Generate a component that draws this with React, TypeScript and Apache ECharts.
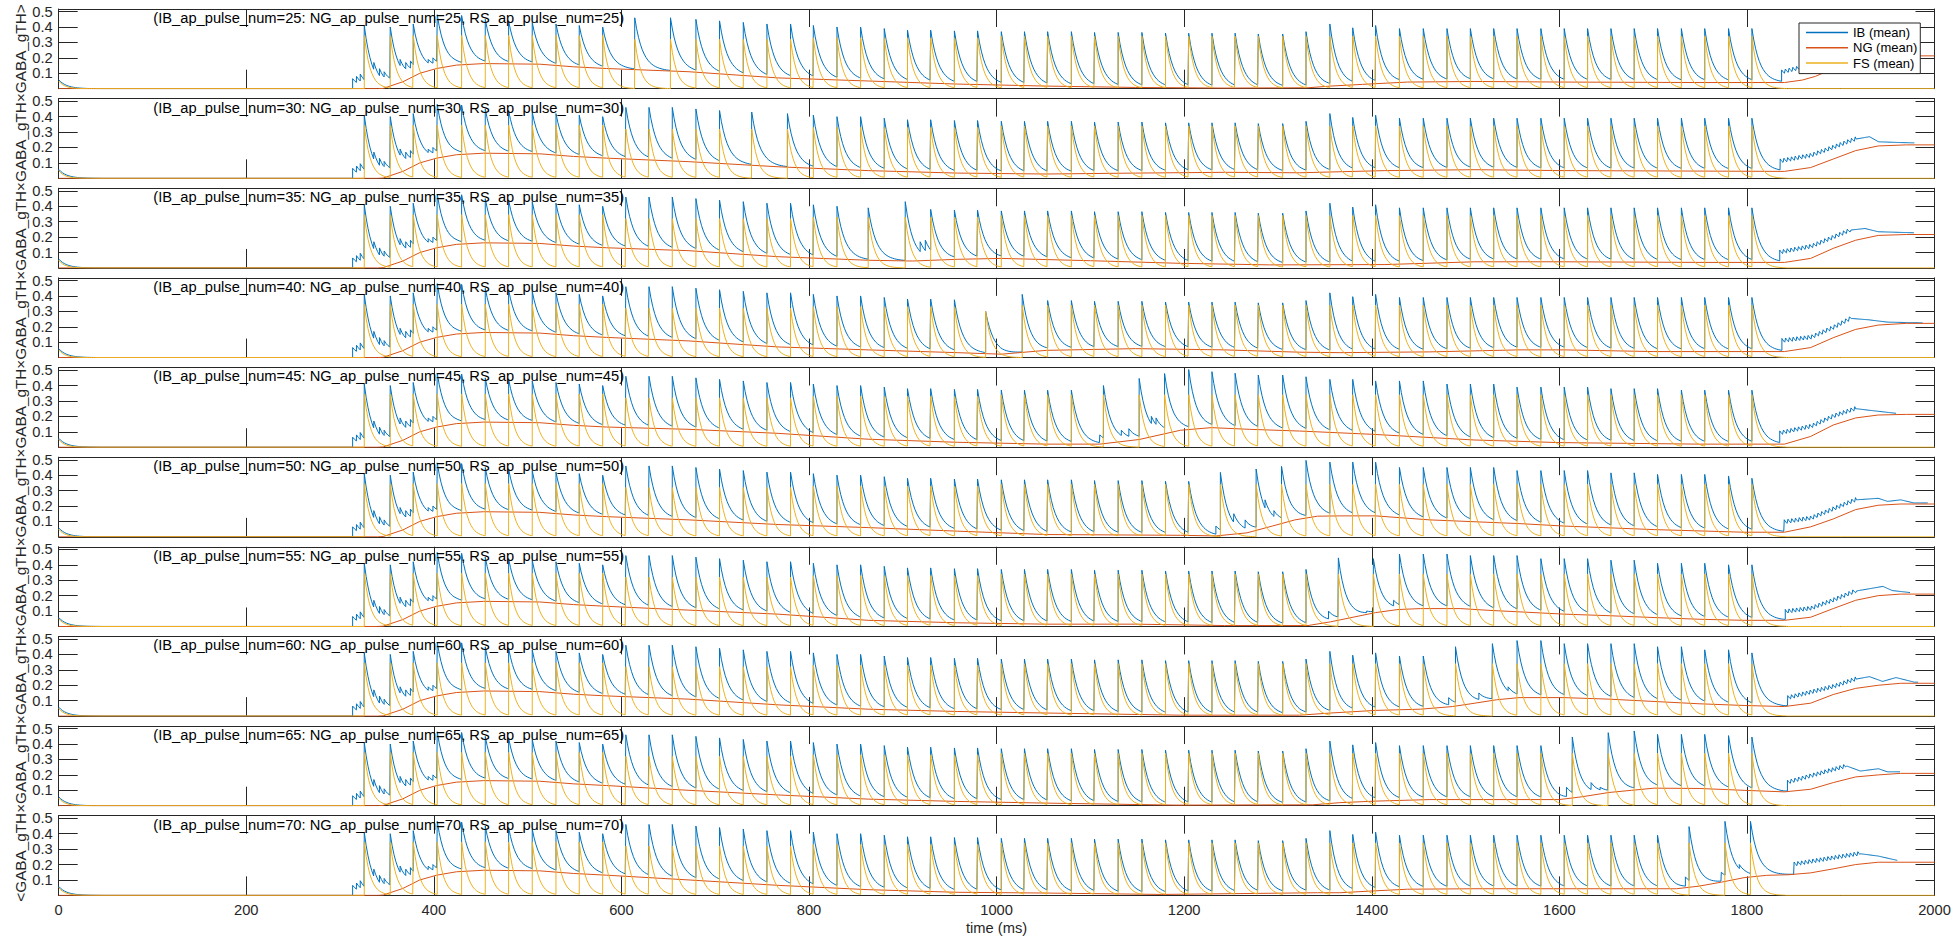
import React, { useEffect, useRef } from "react";
import * as echarts from "echarts";

const FONT = '"Liberation Sans", Arial, Helvetica, sans-serif';

// ---------- axes / labels ----------
const TIME_TICKS = [0, 200, 400, 600, 800, 1000, 1200, 1400, 1600, 1800, 2000];
const Y_TICKS = [0.1, 0.2, 0.3, 0.4, 0.5];
const Y_MAX = 0.517;
const PULSE_NUMS = [25, 30, 35, 40, 45, 50, 55, 60, 65, 70];
const SERIES_NAMES = ["IB (mean)", "NG (mean)", "FS (mean)"];
const SERIES_COLORS = ["#0072BD", "#D95319", "#EDB120"];
const Y_LABEL =
  "<GABA_gTH×GABA_gTH×GABA_gTH×GABA_gTH×GABA_gTH×GABA_gTH×GABA_gTH×GABA_gTH×GABA_gTH×GABA_gTH>";
const X_LABEL = "time (ms)";

// ---------- spike onsets shared by every panel (ms) ----------
const BASE_SPIKES = [
  325.8, 353.5, 378.0, 403.6, 429.6, 454.8, 479.7, 504.9, 530.2, 555.0, 580.0, 604.7, 629.4, 654.2,
  679.4, 704.6, 729.9, 755.1, 780.3, 804.6, 829.8, 855.0, 880.2, 905.0, 929.7, 955.0, 979.7, 1005.0,
  1029.7, 1054.4, 1079.7, 1104.4, 1129.6, 1154.9, 1180.1, 1204.8, 1229.6, 1254.3, 1279.0, 1305.0,
  1329.9, 1355.3, 1379.7, 1404.1, 1429.5, 1454.9, 1480.2, 1505.1, 1530.0, 1554.9, 1580.3, 1605.2,
  1630.1, 1655.0, 1679.8, 1704.7, 1730.1, 1755.0, 1780.4, 1805.3,
];
// small IB-only bumps around the first spikes: [t, value]
const EARLY_BUMPS = [
  [313.4, 0.065], [317.5, 0.08], [321.5, 0.095], [336, 0.17], [342, 0.13], [347, 0.11],
  [364, 0.19], [370, 0.17], [375, 0.18], [388, 0.21], [394, 0.19], [399, 0.2],
];
// start transient at t = 0
const START_IB = 0.058;
const START_FS = 0.05;

// IB peak level (step knots [from t, peak])
const BASE_IB_PEAKS = [
  [0, 0.41], [350, 0.40], [375, 0.42], [400, 0.48], [425, 0.475], [450, 0.45], [475, 0.44],
  [500, 0.43], [525, 0.42], [550, 0.41], [575, 0.40], [600, 0.46], [660, 0.45], [700, 0.44],
  [725, 0.43], [750, 0.42], [790, 0.41], [825, 0.40], [860, 0.39], [900, 0.38], [950, 0.375],
  [1000, 0.37], [1100, 0.365], [1175, 0.36], [1270, 0.355], [1320, 0.37], [1350, 0.42],
  [1375, 0.395], [1400, 0.41], [1425, 0.39],
];
const IB_PEAKS_P25: number[][] = [];
const IB_PEAKS_P30: number[][] = [];
const IB_PEAKS_P35: number[][] = [];
const IB_PEAKS_P40: number[][] = [];
const IB_PEAKS_P45 = [
  [1200, 0.504], [1220, 0.49], [1250, 0.48], [1270, 0.468], [1320, 0.457], [1350, 0.44],
  [1400, 0.43], [1470, 0.41], [1540, 0.39], [1640, 0.38], [1720, 0.37],
];
const IB_PEAKS_P50 = [
  [1320, 0.496], [1340, 0.485], [1420, 0.45], [1550, 0.43], [1650, 0.415], [1700, 0.405],
  [1760, 0.395], [1800, 0.38],
];
const IB_PEAKS_P55 = [[1425, 0.47], [1500, 0.46], [1580, 0.44], [1650, 0.43], [1700, 0.41], [1780, 0.40]];
const IB_PEAKS_P60 = [[1550, 0.49], [1600, 0.47], [1700, 0.45], [1750, 0.43], [1800, 0.41]];
const IB_PEAKS_P65 = [[1670, 0.485], [1700, 0.463], [1760, 0.455], [1800, 0.446]];
const IB_PEAKS_P70: number[][] = [];
const IB_PEAKS = [
  IB_PEAKS_P25, IB_PEAKS_P30, IB_PEAKS_P35, IB_PEAKS_P40, IB_PEAKS_P45,
  IB_PEAKS_P50, IB_PEAKS_P55, IB_PEAKS_P60, IB_PEAKS_P65, IB_PEAKS_P70,
];
// FS peak level (step knots)
const FS_PEAKS = [[0, 0.345], [590, 0.32], [800, 0.33], [1000, 0.34]];

// per-panel irregular windows: base spikes inside [from, to] are replaced
const EDIT_WINDOWS = [
  [595, 660], [720, 790], [845, 925], [970, 1040], [1100, 1185],
  [1225, 1310], [1345, 1425], [1475, 1550], [1600, 1660], [1725, 1810],
];
// [t, IB peak (null = level), FS peak (null = level, 0 = none)]
const EDIT_P25 = [[614.2, null, null], [652.3, null, null]];
const EDIT_P30 = [[738.9, null, null], [777.0, null, null]];
const EDIT_P35 = [[863.1, null, null], [902.6, 0.43, null], [918.5, 0.17, 0], [924.0, 0.18, 0]];
const EDIT_P40 = [[988.3, 0.3, 0.3], [1027.3, 0.41, null]];
const EDIT_P45 = [
  [1110, 0.08, 0], [1113.9, 0.40, null], [1133, 0.11, 0], [1141, 0.12, 0], [1152, 0.446, null],
  [1165, 0.2, 0], [1170, 0.19, 0], [1179.1, 0.478, null],
];
const EDIT_P50 = [
  [1233.8, 0.07, 0], [1238.6, 0.418, null], [1252.9, 0.15, 0], [1265, 0.11, 0], [1276.7, 0.44, null],
  [1286.2, 0.24, 0], [1295.7, 0.17, 0], [1303.8, 0.457, null],
];
const EDIT_P55 = [
  [1353.9, 0.1, 0], [1364.4, 0.445, null], [1380.2, 0.127, 0], [1394.6, 0.1, 0],
  [1401.7, 0.44, null], [1423.3, 0.17, 0],
];
const EDIT_P60 = [
  [1482, 0.12, 0], [1489.3, 0.45, null], [1514.2, 0.15, 0], [1523.8, 0.12, 0],
  [1528.6, 0.47, null], [1545.4, 0.19, 0],
];
const EDIT_P65 = [
  [1607.6, 0.12, 0], [1613.8, 0.446, null], [1633.9, 0.15, 0], [1643.5, 0.12, 0], [1652.1, 0.474, null],
];
const EDIT_P70 = [
  [1734.4, 0.12, 0], [1738.3, 0.446, null], [1748.8, 0.16, 0], [1762, 0.1, 0], [1772.7, 0.15, 0],
  [1776.6, 0.48, null], [1791.9, 0.2, 0], [1803.8, 0.48, null],
];
const EDITS = [EDIT_P25, EDIT_P30, EDIT_P35, EDIT_P40, EDIT_P45, EDIT_P50, EDIT_P55, EDIT_P60, EDIT_P65, EDIT_P70];

const IB_DECAY = [1, 0.79, 0.625, 0.494, 0.39, 0.308, 0.244, 0.193, 0.152, 0.12, 0.095, 0.075, 0.059, 0.047, 0.037, 0.029, 0.023, 0.018, 0.014, 0.011, 0.009, 0.007, 0.005, 0];
const FS_DECAY = [1, 0.735, 0.54, 0.397, 0.292, 0.215, 0.158, 0.116, 0.085, 0.063, 0.046, 0.034, 0.025, 0.018, 0.013, 0.01, 0.007, 0.005, 0.003, 0];

// ---------- NG (mean) ----------
const NG_EARLY = [
  [0, 0], [340, 0], [346, 0.002], [367, 0.045], [385, 0.1], [403, 0.131], [424, 0.153],
  [453, 0.163], [513, 0.159], [549, 0.142], [584, 0.131],
];
const NG_P25 = [[672, 0.11], [767, 0.07], [863, 0.05], [958, 0.03], [1053, 0.017], [1148, 0.008], [1243, 0.004], [1332, 0.006], [1356, 0.017], [1390, 0.028], [1438, 0.043], [1510, 0.047], [1605, 0.043], [1750, 0.04], [1840, 0.04], [1859, 0.056], [1873, 0.08], [1892, 0.13], [1916, 0.18], [1940, 0.205], [1964, 0.213], [2000, 0.213]];
const NG_P30 = [[672, 0.108], [767, 0.075], [863, 0.05], [958, 0.034], [1053, 0.028], [1148, 0.034], [1243, 0.039], [1323, 0.036], [1414, 0.05], [1510, 0.056], [1605, 0.05], [1750, 0.047], [1840, 0.045], [1868, 0.07], [1892, 0.125], [1916, 0.18], [1940, 0.21], [1970, 0.217], [2000, 0.217]];
const NG_P35 = [[672, 0.112], [767, 0.073], [863, 0.05], [910, 0.045], [958, 0.056], [1005, 0.062], [1100, 0.047], [1196, 0.03], [1291, 0.02], [1414, 0.022], [1510, 0.04], [1605, 0.04], [1750, 0.036], [1840, 0.036], [1868, 0.062], [1892, 0.127], [1916, 0.18], [1940, 0.211], [1970, 0.217], [2000, 0.217]];
const NG_P40 = [[672, 0.108], [767, 0.069], [863, 0.05], [958, 0.032], [1005, 0.022], [1053, 0.047], [1148, 0.058], [1243, 0.05], [1323, 0.035], [1366, 0.032], [1462, 0.037], [1557, 0.05], [1605, 0.05], [1700, 0.039], [1840, 0.039], [1868, 0.065], [1892, 0.129], [1916, 0.183], [1940, 0.211], [1970, 0.222], [2000, 0.222]];
const NG_P45 = [[672, 0.116], [767, 0.09], [863, 0.052], [958, 0.032], [1053, 0.02], [1110, 0.02], [1152, 0.05], [1196, 0.11], [1229, 0.127], [1270, 0.116], [1323, 0.105], [1400, 0.084], [1509, 0.047], [1600, 0.03], [1749, 0.02], [1840, 0.02], [1868, 0.07], [1892, 0.144], [1916, 0.19], [1940, 0.209], [1970, 0.213], [2000, 0.213]];
const NG_P50 = [[672, 0.11], [767, 0.08], [863, 0.06], [958, 0.037], [1053, 0.015], [1196, 0.01], [1234, 0.006], [1267, 0.026], [1294, 0.07], [1318, 0.11], [1342, 0.134], [1366, 0.136], [1404, 0.136], [1462, 0.11], [1557, 0.086], [1605, 0.07], [1701, 0.047], [1797, 0.03], [1840, 0.03], [1868, 0.065], [1892, 0.116], [1916, 0.177], [1940, 0.205], [1964, 0.213], [2000, 0.213]];
const NG_P55 = [[672, 0.106], [767, 0.08], [863, 0.04], [958, 0.024], [1053, 0.015], [1148, 0.015], [1243, 0.006], [1332, 0.006], [1356, 0.03], [1380, 0.06], [1404, 0.09], [1428, 0.11], [1452, 0.116], [1495, 0.116], [1524, 0.105], [1557, 0.095], [1605, 0.08], [1653, 0.07], [1701, 0.058], [1749, 0.047], [1797, 0.04], [1840, 0.04], [1868, 0.06], [1892, 0.116], [1916, 0.17], [1940, 0.2], [1964, 0.21], [2000, 0.21]];
const NG_P60 = [[672, 0.11], [767, 0.073], [863, 0.045], [958, 0.03], [1053, 0.02], [1196, 0.006], [1323, 0.006], [1356, 0.02], [1404, 0.037], [1452, 0.045], [1486, 0.062], [1510, 0.084], [1533, 0.106], [1557, 0.12], [1605, 0.12], [1653, 0.11], [1701, 0.095], [1749, 0.08], [1797, 0.069], [1840, 0.062], [1868, 0.084], [1892, 0.14], [1916, 0.18], [1940, 0.2], [1964, 0.213], [2000, 0.213]];
const NG_P65 = [[672, 0.1], [767, 0.07], [863, 0.043], [958, 0.028], [1053, 0.017], [1191, 0.004], [1337, 0.006], [1366, 0.02], [1404, 0.03], [1462, 0.04], [1600, 0.04], [1624, 0.058], [1653, 0.086], [1677, 0.1], [1701, 0.114], [1749, 0.112], [1797, 0.1], [1840, 0.09], [1868, 0.107], [1892, 0.15], [1916, 0.187], [1940, 0.2], [1964, 0.21], [2000, 0.21]];
const NG_P70 = [[672, 0.1], [767, 0.065], [863, 0.037], [958, 0.02], [1053, 0.015], [1176, 0.006], [1342, 0.017], [1366, 0.017], [1399, 0.028], [1438, 0.04], [1510, 0.043], [1653, 0.043], [1725, 0.043], [1749, 0.06], [1773, 0.086], [1797, 0.115], [1821, 0.13], [1845, 0.134], [1868, 0.146], [1892, 0.172], [1916, 0.2], [1940, 0.215], [2000, 0.215]];
const NG_LATE = [NG_P25, NG_P30, NG_P35, NG_P40, NG_P45, NG_P50, NG_P55, NG_P60, NG_P65, NG_P70];

// ---------- IB tail after the pulse train: envelope knots [t, value] ----------
const TAIL_P25 = [[1837, 0.106], [1868, 0.15], [1892, 0.2], [1916, 0.25], [1931, 0.265], [1940, 0.235], [1964, 0.23], [1980, 0.228]];
const TAIL_P30 = [[1835.5, 0.11], [1868.5, 0.147], [1892.4, 0.2], [1916.4, 0.255], [1930.7, 0.27], [1940.3, 0.237], [1964, 0.232], [1978.6, 0.23]];
const TAIL_P35 = [[1835, 0.1], [1868.5, 0.138], [1892.4, 0.198], [1911, 0.246], [1925.8, 0.256], [1940, 0.235], [1978.6, 0.228]];
const TAIL_P40 = [[1837.3, 0.108], [1868.5, 0.13], [1892.4, 0.194], [1911, 0.254], [1930, 0.245], [1949.8, 0.23], [1988, 0.225]];
const TAIL_P45 = [[1835, 0.09], [1868.5, 0.134], [1892.4, 0.2], [1916.4, 0.25], [1930, 0.24], [1959, 0.22]];
const TAIL_P50 = [[1839.8, 0.095], [1868.5, 0.12], [1892.4, 0.18], [1916.4, 0.24], [1940, 0.25], [1950, 0.23], [1964, 0.24], [1978, 0.22], [1993, 0.22]];
const TAIL_P55 = [[1840.9, 0.095], [1868.5, 0.116], [1892.4, 0.17], [1916.4, 0.23], [1945, 0.26], [1955, 0.233], [1974, 0.22]];
const TAIL_P60 = [[1843.5, 0.117], [1892.4, 0.19], [1916.4, 0.24], [1930.7, 0.256], [1944.6, 0.225], [1959, 0.25], [1978.6, 0.22], [1983, 0.22]];
const TAIL_P65 = [[1843.2, 0.15], [1906.7, 0.257], [1921, 0.225], [1940.3, 0.24], [1949.8, 0.22], [1964, 0.22]];
const TAIL_P70 = [[1850.3, 0.2], [1921, 0.27], [1940, 0.255], [1961, 0.226]];
const TAILS = [TAIL_P25, TAIL_P30, TAIL_P35, TAIL_P40, TAIL_P45, TAIL_P50, TAIL_P55, TAIL_P60, TAIL_P65, TAIL_P70];
const TEETH_END = [1916, 1916, 1911, 1911, 1916, 1916, 1916, 1916, 1906, 1921];
// sawtooth texture of the tail, 1 ms steps
const TAIL_TOOTH = [0.016, 0.006, -0.003, -0.01];

// ---------- helpers ----------
function lin(knots: number[][], t: number): number {
  if (t <= knots[0][0]) return knots[0][1];
  for (let i = 1; i < knots.length; i++) {
    if (t <= knots[i][0]) {
      const [t0, v0] = knots[i - 1];
      const [t1, v1] = knots[i];
      return t1 === t0 ? v1 : v0 + ((v1 - v0) * (t - t0)) / (t1 - t0);
    }
  }
  return knots[knots.length - 1][1];
}
function stepAt(knots: number[][], t: number): number {
  let v = knots[0][1];
  for (const k of knots) {
    if (k[0] <= t) v = k[1];
    else break;
  }
  return v;
}
function kern(K: number[], dt: number): number {
  const x = dt / 2;
  const i = Math.floor(x);
  if (i >= K.length - 1) return 0;
  return K[i] + (K[i + 1] - K[i]) * (x - i);
}

type Ev = { t: number; peak: number };

function buildTrace(events: Ev[], K: number[], base: (t: number) => number, endT: number) {
  const pts: number[][] = [];
  let cur = events[0];
  let amp = cur.peak - base(cur.t);
  let k = 1;
  pts.push([cur.t, cur.peak]);
  const valAt = (t: number) => base(t) + amp * kern(K, t - cur.t);
  const decayTo = (tEnd: number) => {
    while (k < K.length) {
      const t = cur.t + 2 * k;
      if (t >= tEnd) break;
      pts.push([t, valAt(t)]);
      k++;
    }
  };
  for (let i = 1; i < events.length; i++) {
    const e = events[i];
    decayTo(e.t);
    const v = valAt(e.t);
    if (e.peak <= v + 0.004) continue;
    pts.push([e.t, v], [e.t, e.peak]);
    cur = e;
    amp = e.peak - base(e.t);
    k = 1;
  }
  decayTo(endT);
  pts.push([endT, valAt(endT)]);
  return pts;
}

function panelData(p: number) {
  const ngKnots = NG_EARLY.concat(NG_LATE[p]);
  const ngAt = (t: number) => lin(ngKnots, t);
  const ov = IB_PEAKS[p];
  const peakKnots = ov.length ? BASE_IB_PEAKS.filter((k) => k[0] < ov[0][0]).concat(ov) : BASE_IB_PEAKS;
  const [w0, w1] = EDIT_WINDOWS[p];

  type Sp = { t: number; ib: number; fs: number };
  const spikes: Sp[] = [];
  for (const t of BASE_SPIKES) {
    if (t >= w0 && t <= w1) continue;
    spikes.push({ t, ib: stepAt(peakKnots, t), fs: stepAt(FS_PEAKS, t) });
  }
  for (const [t, v] of EARLY_BUMPS) spikes.push({ t, ib: v, fs: 0 });
  for (const e of EDITS[p] as (number | null)[][]) {
    const t = e[0] as number;
    spikes.push({
      t,
      ib: e[1] === null ? stepAt(peakKnots, t) : (e[1] as number),
      fs: e[2] === null ? stepAt(FS_PEAKS, t) : (e[2] as number),
    });
  }
  spikes.sort((a, b) => a.t - b.t);

  // IB
  const tail = TAILS[p];
  const ibEvents: Ev[] = [{ t: 0, peak: START_IB }].concat(spikes.map((s) => ({ t: s.t, peak: s.ib })));
  const ib = buildTrace(ibEvents, IB_DECAY, ngAt, tail[0][0]);
  const tEnd = tail[tail.length - 1][0];
  let j = 0;
  for (let t = tail[0][0]; t <= tEnd + 1e-6; t += 1, j++) {
    const env = lin(tail, t);
    const off = t < TEETH_END[p] ? TAIL_TOOTH[j % TAIL_TOOTH.length] : 0;
    ib.push([t, env + off]);
  }

  // FS
  const fsEvents: Ev[] = [{ t: 0, peak: START_FS }].concat(
    spikes.filter((s) => s.fs > 0).map((s) => ({ t: s.t, peak: s.fs }))
  );
  const fs = buildTrace(fsEvents, FS_DECAY, () => 0, 1900);
  fs.push([2000, 0]);

  return { ib, ng: ngKnots, fs };
}

function buildOption() {
  const PANEL_TOP = 9;
  const PANEL_PITCH = 89.63;
  const PANEL_H = 79.7;
  const LEFT = 58.7;
  const WIDTH = 1875.8;
  const axisCol = "#262626";

  const grid: any[] = [];
  const xAxis: any[] = [];
  const yAxis: any[] = [];
  const series: any[] = [];
  const graphic: any[] = [];

  PULSE_NUMS.forEach((n, i) => {
    const top = PANEL_TOP + i * PANEL_PITCH;
    grid.push({ left: LEFT, top, width: WIDTH, height: PANEL_H, containLabel: false, outerBoundsMode: "none" });
    const xBase = {
      type: "value",
      gridIndex: i,
      min: TIME_TICKS[0],
      max: TIME_TICKS[TIME_TICKS.length - 1],
      interval: TIME_TICKS[1] - TIME_TICKS[0],
      splitLine: { show: false },
      axisLine: { show: true, onZero: false, lineStyle: { color: axisCol, width: 1 } },
    };
    xAxis.push({
      ...xBase,
      position: "bottom",
      axisTick: { show: true, inside: true, length: 19, lineStyle: { color: axisCol } },
      axisLabel: {
        show: i === PULSE_NUMS.length - 1,
        formatter: (v: number) => String(v),
        fontSize: 14.7,
        fontFamily: FONT,
        color: axisCol,
        margin: 7,
      },
    });
    xAxis.push({
      ...xBase,
      position: "top",
      axisTick: { show: true, inside: true, length: 18, lineStyle: { color: axisCol } },
      axisLabel: { show: false },
    });
    const yBase = {
      type: "value",
      gridIndex: i,
      min: 0,
      max: Y_MAX,
      splitLine: { show: false },
      axisLine: { show: true, onZero: false, lineStyle: { color: axisCol, width: 1 } },
    };
    yAxis.push({
      ...yBase,
      position: "left",
      axisTick: { show: true, inside: true, length: 19, customValues: Y_TICKS, lineStyle: { color: axisCol } },
      axisLabel: {
        show: true,
        customValues: Y_TICKS,
        formatter: (v: number) => v.toFixed(1),
        fontSize: 14.7,
        fontFamily: FONT,
        color: axisCol,
        margin: 6,
      },
    });
    yAxis.push({
      ...yBase,
      position: "right",
      axisTick: { show: true, inside: true, length: 19, customValues: Y_TICKS, lineStyle: { color: axisCol } },
      axisLabel: { show: false },
    });

    const d = panelData(i);
    const traces = [d.ib, d.ng, d.fs];
    traces.forEach((data, s) => {
      series.push({
        type: "line",
        name: SERIES_NAMES[s],
        xAxisIndex: 2 * i,
        yAxisIndex: 2 * i,
        data,
        showSymbol: false,
        symbol: "none",
        silent: true,
        clip: true,
        z: 2 + s,
        lineStyle: { width: 1, color: SERIES_COLORS[s] },
        itemStyle: { color: SERIES_COLORS[s] },
      });
    });

    graphic.push({
      type: "text",
      x: 153.3,
      y: top + 8.9,
      z: 50,
      silent: true,
      style: {
        text: `(IB_ap_pulse_num=${n}: NG_ap_pulse_num=${n}, RS_ap_pulse_num=${n})`,
        fontSize: 14.7,
        fontFamily: FONT,
        fill: "#000",
        align: "left",
        verticalAlign: "middle",
      },
    });
  });

  graphic.push({
    type: "text",
    x: 20,
    y: 453,
    rotation: Math.PI / 2,
    silent: true,
    style: {
      text: Y_LABEL,
      fontSize: 15.3,
      fontFamily: FONT,
      fill: axisCol,
      align: "center",
      verticalAlign: "middle",
    },
  });
  graphic.push({
    type: "text",
    x: LEFT + WIDTH / 2,
    y: 928,
    silent: true,
    style: {
      text: X_LABEL,
      fontSize: 14.7,
      fontFamily: FONT,
      fill: axisCol,
      align: "center",
      verticalAlign: "middle",
    },
  });

  return {
    animation: false,
    backgroundColor: "#fff",
    grid,
    xAxis,
    yAxis,
    series,
    graphic,
    legend: {
      data: SERIES_NAMES,
      orient: "vertical",
      left: 1799,
      top: 23,
      padding: [2, 3, 3, 7],
      itemGap: 0,
      itemWidth: 42,
      itemHeight: 1.5,
      icon: "rect",
      backgroundColor: "#fff",
      borderColor: axisCol,
      borderWidth: 1,
      selectedMode: false,
      z: 20,
      textStyle: { fontSize: 13, lineHeight: 15.2, fontFamily: FONT, color: "#000" },
    },
  };
}

export default function App() {
  const ref = useRef<HTMLDivElement>(null);
  useEffect(() => {
    if (!ref.current) return;
    const chart = echarts.init(ref.current, null, { renderer: "svg" });
    chart.setOption(buildOption() as any);
    return () => chart.dispose();
  }, []);
  return (
    <div
      ref={ref}
      style={{ position: "fixed", left: 0, top: 0, width: 1954, height: 943, background: "#fff" }}
    />
  );
}
